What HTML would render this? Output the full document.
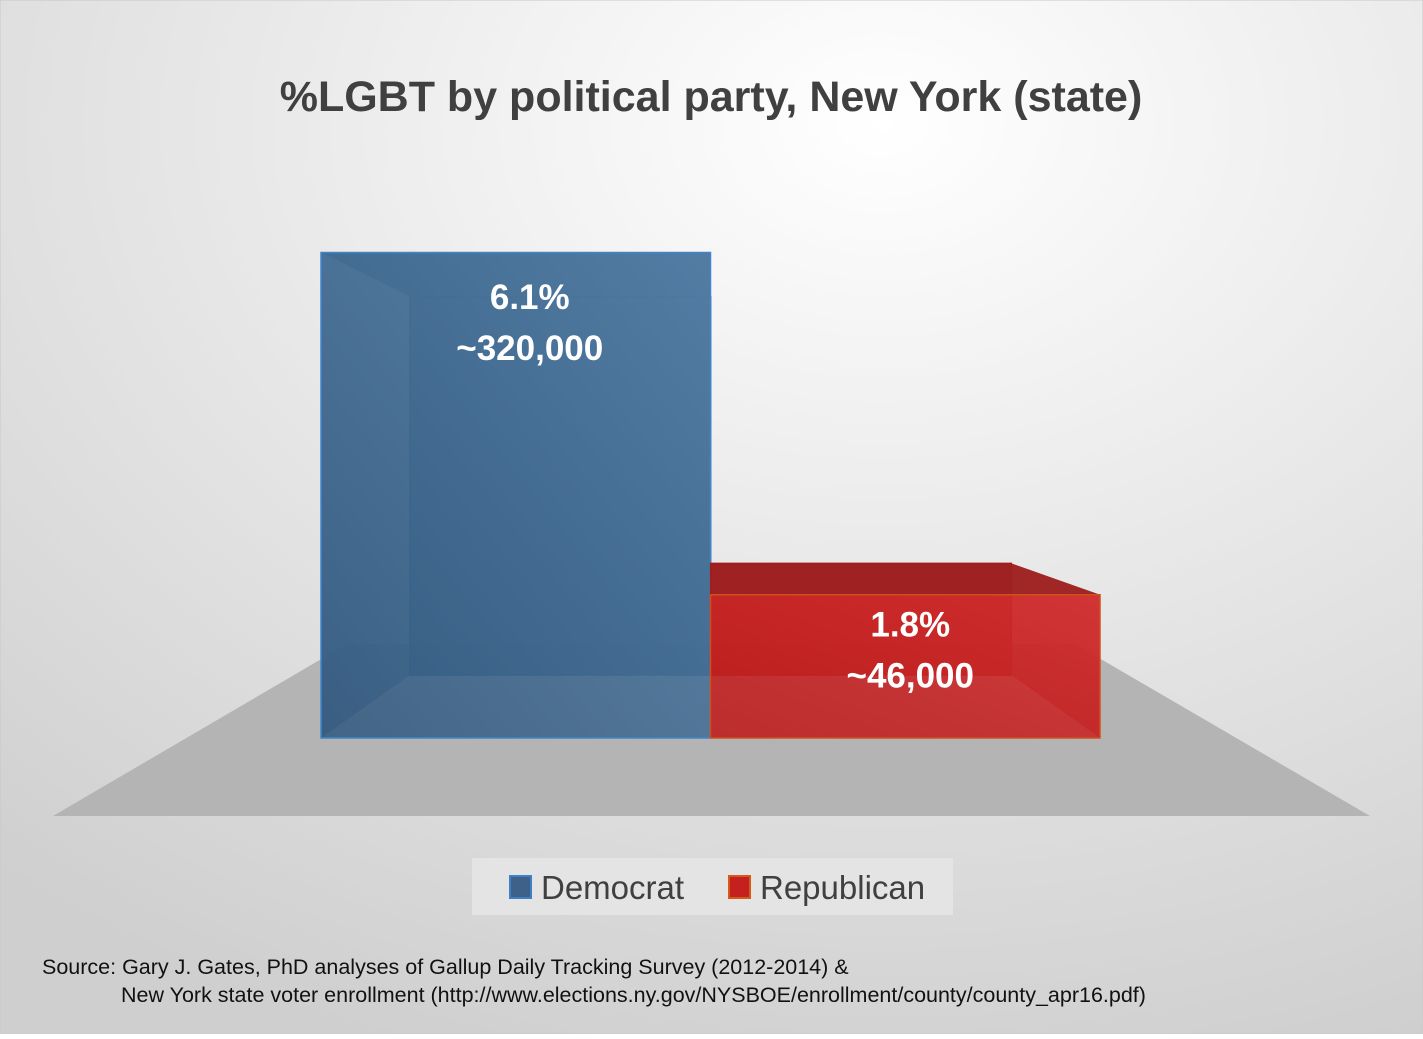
<!DOCTYPE html>
<html><head><meta charset="utf-8"><style>
body{margin:0;width:1423px;height:1034px;overflow:hidden;font-family:"Liberation Sans",sans-serif}
</style></head><body>
<svg width="1423" height="1034" xmlns="http://www.w3.org/2000/svg">
<defs>
<radialGradient id="bg" cx="0.62" cy="0.12" r="0.95">
<stop offset="0" stop-color="#ffffff"/><stop offset="1" stop-color="#cfcfcf"/></radialGradient>
<linearGradient id="blueG" x1="0" y1="1" x2="1" y2="0"><stop offset="0" stop-color="#335a80"/><stop offset="1" stop-color="#5580a8"/></linearGradient>
<linearGradient id="redG" x1="0" y1="1" x2="1" y2="0"><stop offset="0" stop-color="#bd1a1a"/><stop offset="1" stop-color="#d42c2c"/></linearGradient>
</defs>
<rect width="1423" height="1034" fill="url(#bg)" stroke="#c8c8c8"/>
<text x="711" y="111" text-anchor="middle" font-size="43" font-weight="bold" fill="#404040">%LGBT by political party, New York (state)</text>
<polygon points="347,644 1075,644 1370,816 53,816" fill="#b4b4b4"/>
<g id="bars"></g>
<rect x="472" y="858" width="481" height="57" fill="#e4e4e4"/>
<rect x="510" y="876" width="21" height="22" fill="#3d6188" stroke="#3f7fc4" stroke-width="2"/>
<text x="541" y="899" font-size="33" fill="#404040">Democrat</text>
<rect x="729" y="876" width="21" height="22" fill="#c42020" stroke="#d45a1a" stroke-width="2"/>
<text x="760" y="899" font-size="33" fill="#404040">Republican</text>
<text x="42" y="974" font-size="21.5" fill="#111">Source: Gary J. Gates, PhD analyses of Gallup Daily Tracking Survey (2012-2014) &amp;</text>
<text x="121" y="1002" font-size="21.5" fill="#111">New York state voter enrollment (http://www.elections.ny.gov/NYSBOE/enrollment/county/county_apr16.pdf)</text>
</svg>
<script>
const categories=["Democrat","Republican"];
const values=[6.1,1.8];
const labels1=["6.1%","1.8%"];
const labels2=["~320,000","~46,000"];
const NS="http://www.w3.org/2000/svg";
const g=document.getElementById('bars');
const x0=321,bw=389.5,cx=711;
function yFront(v){return 738-v*79.6;}
function yBack(v){return 675-v*62;}
function xBack(f){return cx+(f-cx)*0.772;}
const fills=["url(#blueG)","url(#redG)"],dark=["#2f5478","#9e1f1f"],strokes=["#3f85cc","#d0501c"];
function poly(pts,fill,op,name,stroke){const p=document.createElementNS(NS,'polygon');p.setAttribute('points',pts.map(a=>a.join(',')).join(' '));p.setAttribute('fill',fill);p.setAttribute('fill-opacity',op);if(stroke){p.setAttribute('stroke',stroke);p.setAttribute('stroke-width','1.5');}


g.appendChild(p);return p;}
values.forEach((v,i)=>{
 const l=x0+i*bw,r=l+bw,bl=xBack(l),br=xBack(r);
 const ft=yFront(v),bt=yBack(v);
 poly([[bl,bt],[br,bt],[br,675],[bl,675]],dark[i],0.9,'bar-back-'+categories[i].toLowerCase(),dark[i]);
 poly([[l,ft],[r,ft],[br,bt],[bl,bt]],dark[i],0.9,'bar-top-'+categories[i].toLowerCase());
 poly([[l,ft],[bl,bt],[bl,675],[l,738]],dark[i],0.6,'bar-side-'+categories[i].toLowerCase());
 poly([[r,ft],[br,bt],[br,675],[r,738]],dark[i],0.6,'bar-side-r-'+categories[i].toLowerCase());
 poly([[l,ft],[r,ft],[r,738],[l,738]],fills[i],0.88,'bar-'+categories[i].toLowerCase(),strokes[i]);
 const mid=(l+r)/2+(i==0?14:5);
 const y1=(bt>ft)?bt+12:ft+42;
 [labels1[i],labels2[i]].forEach((t,k)=>{const e=document.createElementNS(NS,'text');e.setAttribute('x',mid);e.setAttribute('y',y1+k*51);e.setAttribute('text-anchor','middle');e.setAttribute('font-size','35');e.setAttribute('font-weight','bold');e.setAttribute('fill','#fff');e.textContent=t;
 
 
 g.appendChild(e);});
});
</script>
</body></html>
